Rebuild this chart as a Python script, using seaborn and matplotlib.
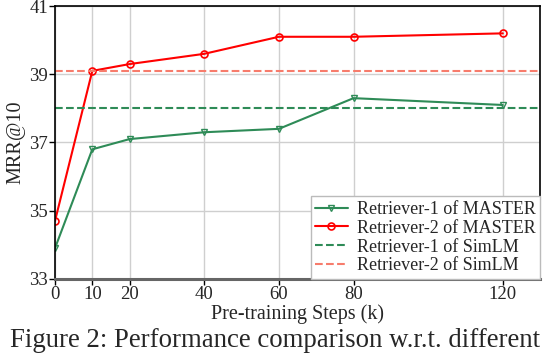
import matplotlib
matplotlib.use("Agg")
import matplotlib.pyplot as plt
import seaborn as sns
import pandas as pd

# data
steps = [0, 10, 20, 40, 60, 80, 120]
master_r1 = [33.9, 36.8, 37.1, 37.3, 37.4, 38.3, 38.1]
master_r2 = [34.7, 39.1, 39.3, 39.6, 40.1, 40.1, 40.2]
simlm_r1 = 38.0
simlm_r2 = 39.1
y_ticks = [33, 35, 37, 39, 41]
x_ticks = [0, 10, 20, 40, 60, 80, 120]

sns.set_theme(style="whitegrid", rc={
    "grid.color": "#CFCFCF",
    "grid.linewidth": 1.0,
    "axes.edgecolor": "black",
})
plt.rcParams['font.family'] = ['Liberation Serif', 'DejaVu Serif']
plt.rcParams['mathtext.fontset'] = 'stix'

GREEN = "#2E8B57"
RED = "#FF0000"
SALMON = "#F77C6C"

df = pd.DataFrame({"step": steps, "r1": master_r1, "r2": master_r2})

fig = plt.figure(figsize=(5.5, 3.58), dpi=100)
ax = fig.add_axes([0.1, 0.221, 0.882, 0.762])

sns.lineplot(data=df, x="step", y="r1", ax=ax, color=GREEN, marker="v",
             markersize=5, markerfacecolor="none", markeredgecolor=GREEN,
             markeredgewidth=1.0, linewidth=1.5, label="Retriever-1 of MASTER")
sns.lineplot(data=df, x="step", y="r2", ax=ax, color=RED, marker="o",
             markersize=5, markerfacecolor="none", markeredgecolor=RED,
             markeredgewidth=1.2, linewidth=1.5, label="Retriever-2 of MASTER")
ax.axhline(simlm_r1, color=GREEN, linestyle="--", linewidth=1.5, label="Retriever-1 of SimLM")
ax.axhline(simlm_r2, color=SALMON, linestyle="--", linewidth=1.5, label="Retriever-2 of SimLM")

ax.set_xlim(0, 130)
ax.set_ylim(33, 41)
ax.set_xticks(x_ticks)
ax.set_yticks(y_ticks)
ax.tick_params(axis="both", labelsize=13.5, length=4, width=1, color="black",
               direction="out", bottom=True, left=True, pad=1)
ax.set_xlabel("Pre-training Steps (k)", fontsize=14.5, labelpad=1)
ax.set_ylabel("MRR@10", fontsize=14.5, labelpad=3)

for side in ["top", "right", "left"]:
    ax.spines[side].set_color("black")
    ax.spines[side].set_linewidth(1.2)
ax.spines["bottom"].set_color("#666666")
ax.spines["bottom"].set_linewidth(2.2)

leg = ax.legend(loc="lower right", fontsize=13, frameon=True, fancybox=False,
                borderpad=0.25, labelspacing=0.1, handlelength=1.8,
                handletextpad=0.5, borderaxespad=0.0, framealpha=1)
leg.get_frame().set_edgecolor("#BBBBBB")
leg.get_frame().set_linewidth(1.0)

fig.text(0.5, 0.05, "Figure 2: Performance comparison w.r.t. different",
         ha="center", va="center", fontsize=19.3)

fig.savefig("out.png", dpi=100)
